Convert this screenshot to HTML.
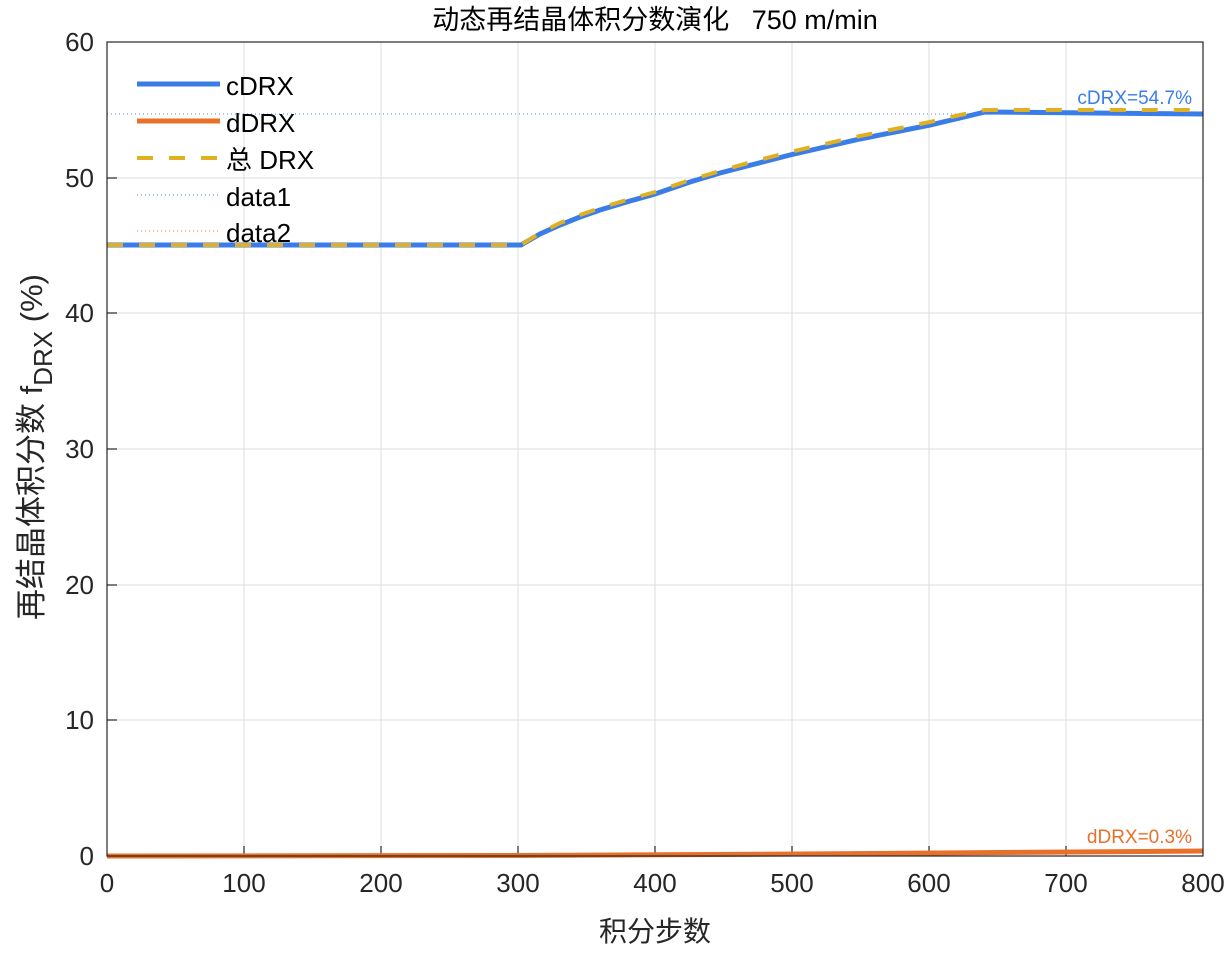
<!DOCTYPE html>
<html><head><meta charset="utf-8"><style>
body{margin:0;background:#fff}
svg text{font-family:"Liberation Sans","Noto Sans CJK SC",sans-serif}
</style></head><body>
<svg width="1230" height="948" xmlns="http://www.w3.org/2000/svg">
<rect width="1230" height="948" fill="#fff"/>
<g stroke="#dcdcdc" stroke-width="1">
<line x1="244" y1="42" x2="244" y2="856"/><line x1="381" y1="42" x2="381" y2="856"/>
<line x1="518" y1="42" x2="518" y2="856"/><line x1="655" y1="42" x2="655" y2="856"/>
<line x1="792" y1="42" x2="792" y2="856"/><line x1="929" y1="42" x2="929" y2="856"/>
<line x1="1066" y1="42" x2="1066" y2="856"/>
<line x1="107" y1="720" x2="1203" y2="720"/><line x1="107" y1="585" x2="1203" y2="585"/>
<line x1="107" y1="449" x2="1203" y2="449"/><line x1="107" y1="313" x2="1203" y2="313"/>
<line x1="107" y1="178" x2="1203" y2="178"/>
</g>
<g stroke="#262626" stroke-width="1.2">
<line x1="244" y1="856" x2="244" y2="846"/><line x1="381" y1="856" x2="381" y2="846"/><line x1="518" y1="856" x2="518" y2="846"/><line x1="655" y1="856" x2="655" y2="846"/><line x1="792" y1="856" x2="792" y2="846"/><line x1="929" y1="856" x2="929" y2="846"/><line x1="1066" y1="856" x2="1066" y2="846"/>
<line x1="107" y1="720" x2="117" y2="720"/><line x1="107" y1="585" x2="117" y2="585"/><line x1="107" y1="449" x2="117" y2="449"/><line x1="107" y1="313" x2="117" y2="313"/><line x1="107" y1="178" x2="117" y2="178"/>
</g>
<line x1="107" y1="114" x2="985" y2="114" stroke="#4f86e0" stroke-width="1" stroke-dasharray="1,3"/>
<line x1="107" y1="856" x2="1203" y2="856" stroke="#e07a40" stroke-width="1" stroke-dasharray="1,3"/>
<polyline fill="none" stroke="#3b7de8" stroke-width="5" points="107,245 521,245 540,234 560,225 580,217 600,210 630,201 655,194 690,182 720,173 755,164 790,155 825,147 860,139 895,132 930,125 960,118 985,112 1203,114"/>
<polyline fill="none" stroke="#e0b024" stroke-width="4" stroke-dasharray="16,16" points="107,245 521,245 540,233 560,223 580,215 600,208 630,199 655,192 690,180 720,171 755,161 790,152 825,144 860,136 895,129 930,122 960,115 985,110 1203,110"/>
<polyline fill="none" stroke="#e8702a" stroke-width="5" points="107,856 521,855.5 800,854 1203,851"/>
<rect x="107" y="42" width="1096" height="814" fill="none" stroke="#262626" stroke-width="1.2"/>
<text x="1192" y="104" font-size="19" fill="#3b7de8" text-anchor="end">cDRX=54.7%</text>
<text x="1192" y="843" font-size="19" fill="#e8702a" text-anchor="end">dDRX=0.3%</text>
<g font-size="26" fill="#000">
<line x1="137" y1="84" x2="220" y2="84" stroke="#3b7de8" stroke-width="5"/><text x="226" y="95">cDRX</text>
<line x1="137" y1="121" x2="220" y2="121" stroke="#e8702a" stroke-width="5"/><text x="226" y="132">dDRX</text>
<line x1="137" y1="158" x2="220" y2="158" stroke="#e0b024" stroke-width="4" stroke-dasharray="16,16"/><text x="226" y="169">总 DRX</text>
<line x1="137" y1="195" x2="220" y2="195" stroke="#4f86e0" stroke-width="1" stroke-dasharray="1,3"/><text x="226" y="206">data1</text>
<line x1="137" y1="231" x2="220" y2="231" stroke="#e07a40" stroke-width="1" stroke-dasharray="1,3"/><text x="226" y="242">data2</text>
</g>
<g font-size="26" fill="#262626" text-anchor="middle">
<text x="107" y="892">0</text><text x="244" y="892">100</text><text x="381" y="892">200</text>
<text x="518" y="892">300</text><text x="655" y="892">400</text><text x="792" y="892">500</text>
<text x="929" y="892">600</text><text x="1066" y="892">700</text><text x="1203" y="892">800</text>
</g>
<g font-size="26" fill="#262626" text-anchor="end">
<text x="94" y="865">0</text><text x="94" y="729">10</text><text x="94" y="594">20</text>
<text x="94" y="458">30</text><text x="94" y="322">40</text><text x="94" y="187">50</text><text x="94" y="51">60</text>
</g>
<text x="655" y="941" font-size="28" text-anchor="middle" fill="#262626">积分步数</text>
<text x="655" y="29" font-size="27" text-anchor="middle" fill="#000" xml:space="preserve">动态再结晶体积分数演化   750 m/min</text>
<text transform="translate(42,447) rotate(-90)" font-size="31" text-anchor="middle" fill="#262626">再结晶体积分数 f<tspan font-size="26" dy="10">DRX</tspan><tspan dy="-10"> (%)</tspan></text>
</svg>
</body></html>
